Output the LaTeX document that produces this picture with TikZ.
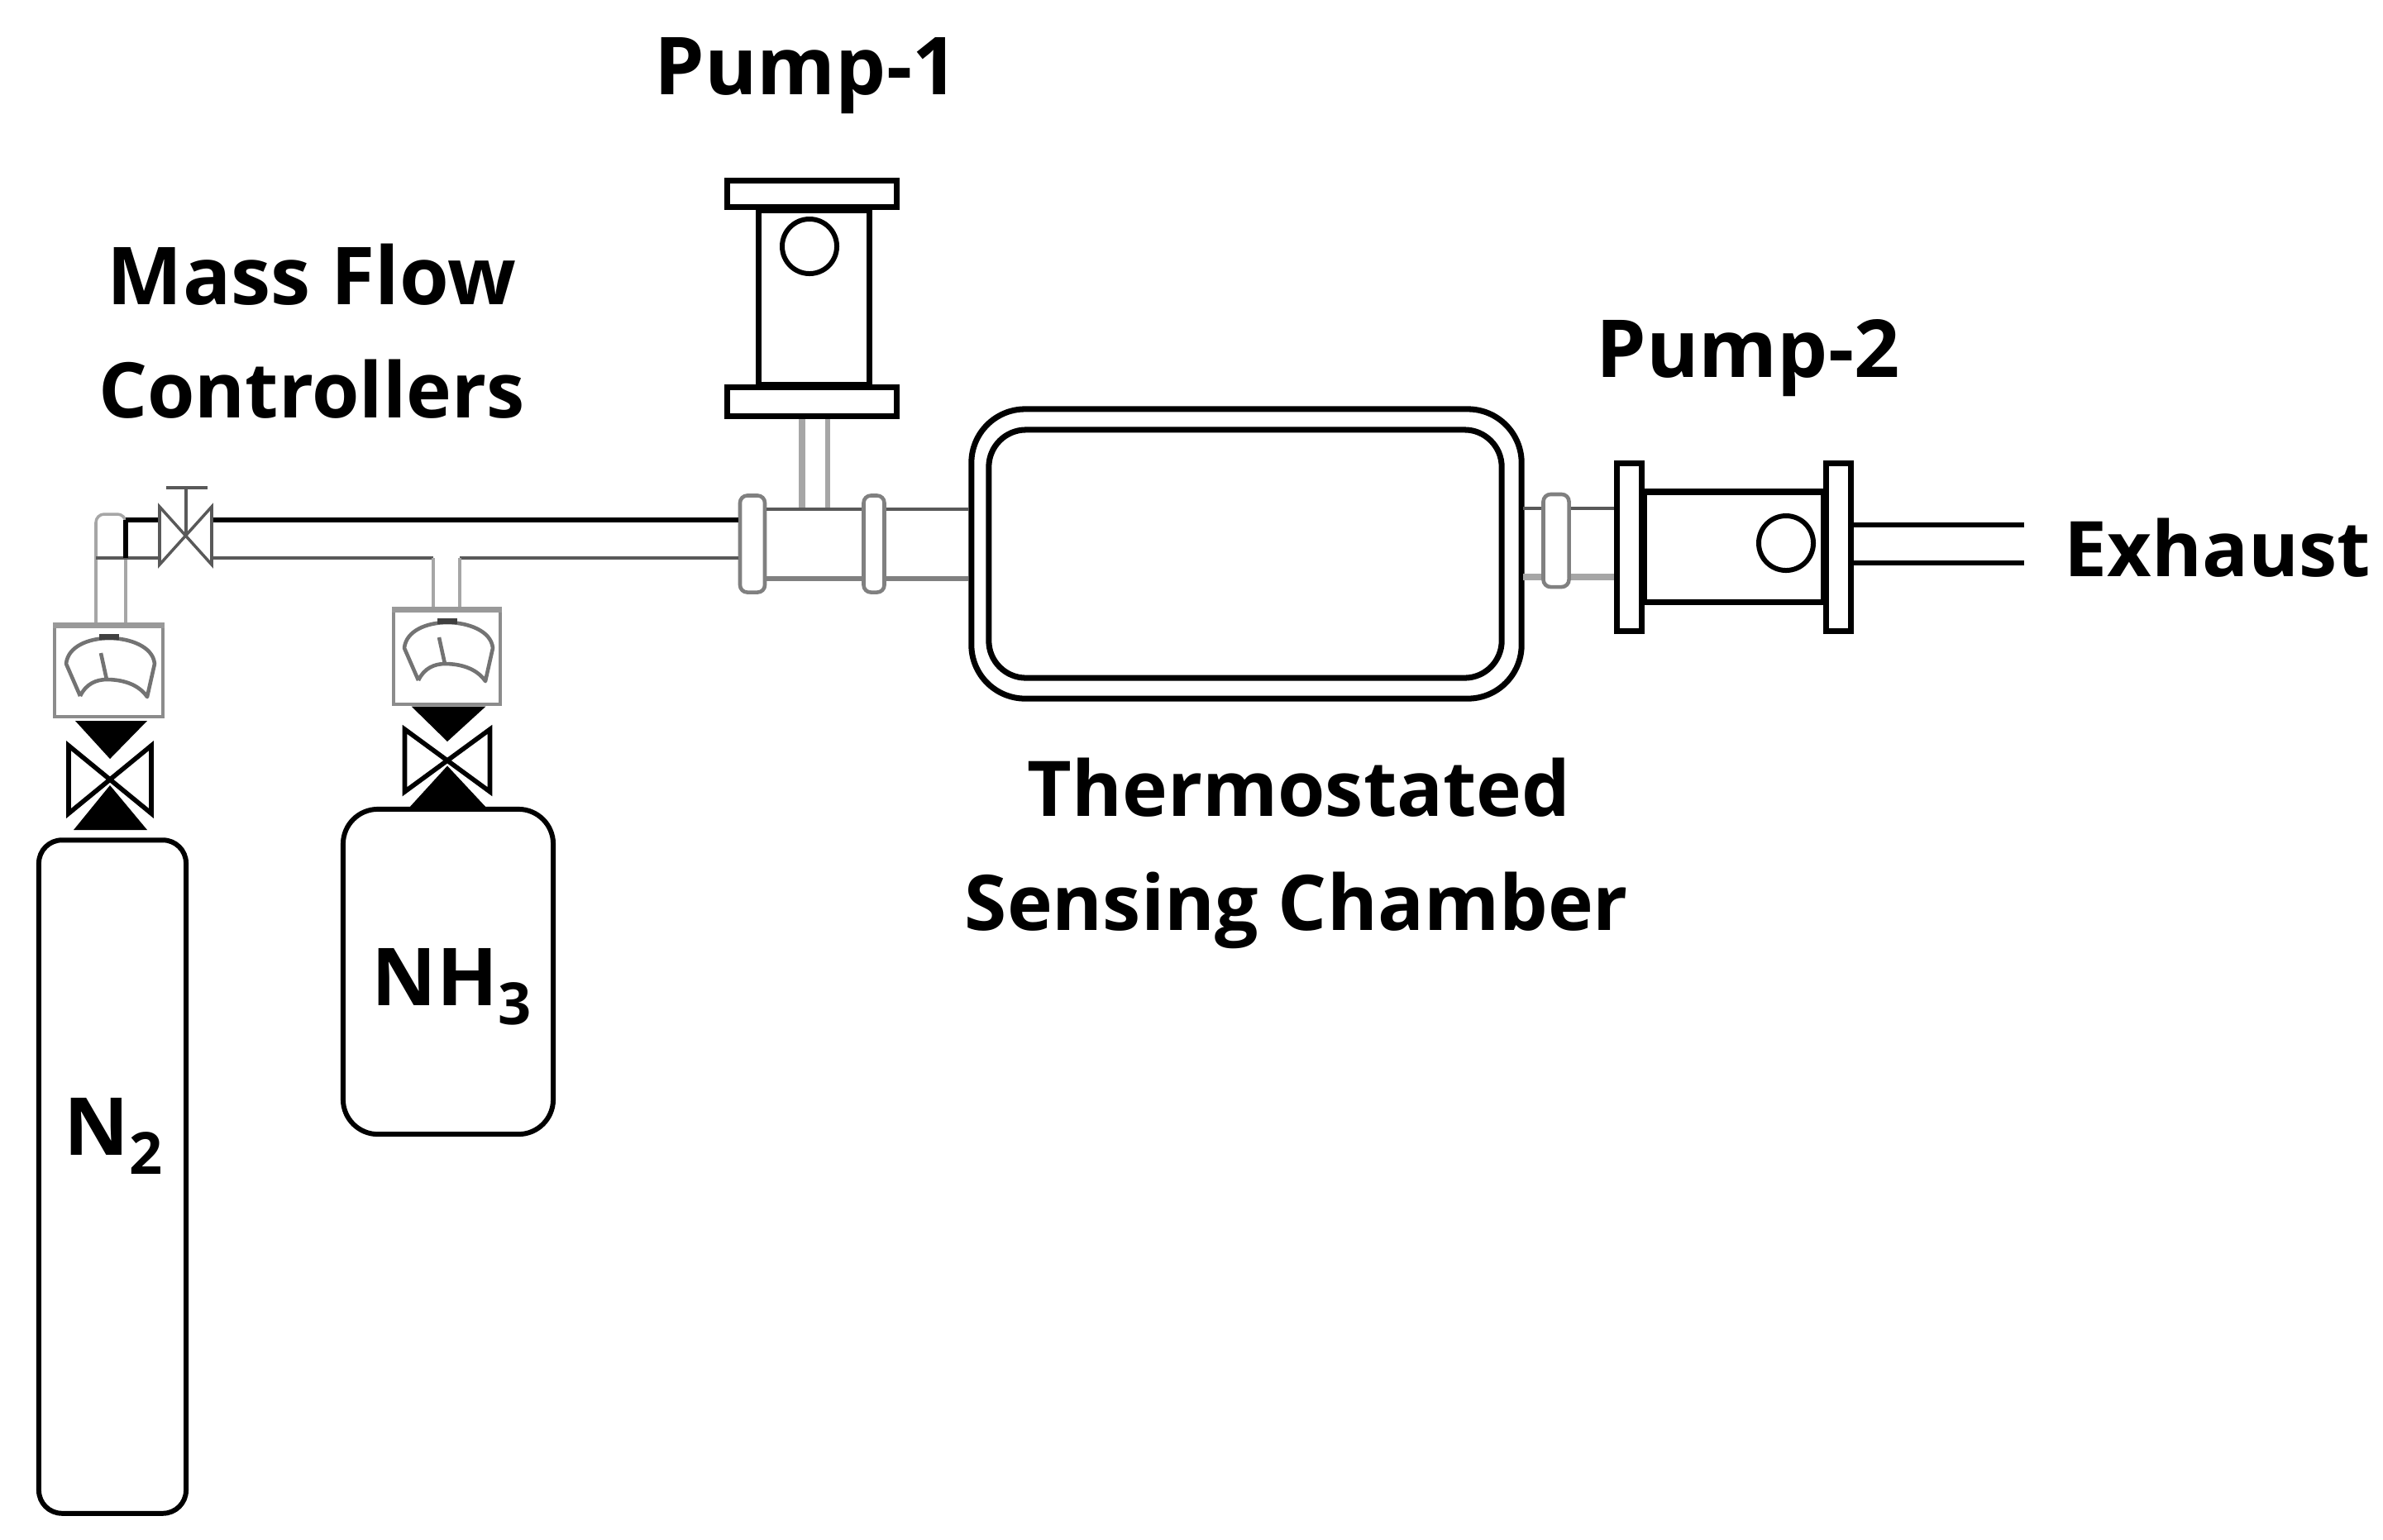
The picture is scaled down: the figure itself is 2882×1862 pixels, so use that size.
\documentclass[tikz,border=0pt]{standalone}
\usepackage{fontspec}
\setmainfont{Open Sans}
\usetikzlibrary{positioning}
\tikzset{
    caption/.style={font=\fontsize{27.5}{30}\selectfont\bfseries, inner sep=0pt, anchor=base},
    narrowcaption/.style={caption, font=\fontsize{26.4}{30}\selectfont\bfseries},
    bottle/.style={draw, line width=1.7pt, fill=white, inner sep=0pt},
    flange/.style={draw, line width=2pt, fill=white, inner sep=0pt},
    wall/.style={black, line width=1.9pt},
    collar/.style={draw=black!50, line width=1.3pt, fill=white, rounded corners=2.5pt, inner sep=0pt},
    pipe/.style={black!65, line width=1.3pt},
    palepipe/.style={black!35, line width=1.4pt},
    meterbox/.style={draw=black!45, line width=1pt, fill=white, inner sep=0pt},
    gauge/.pic={
        \draw[black!55, line width=1.3pt, line join=round]
            (-35, 30) -- (-52, -9) .. controls (-50, -30) and (-25, -40) .. (0, -40)
            .. controls (25, -40) and (53, -30) .. (55, -9) -- (46, 31)
            .. controls (35, 15) and (15, 10) .. (-3, 10)
            .. controls (-15, 10) and (-28, 15) .. (-35, 30);
        \draw[black!55, line width=1.3pt] (-3, 10) -- (-10, -22);
        \draw[black!75, line width=2pt] (-12, -42) -- (12, -42);
    },
    shutoff/.pic={
        \draw[black, line width=1.6pt] (-50, -41) -- (50, 41) -- (50, -41) -- (-50, 41) -- cycle;
        \fill[black] (-42, -71) -- (45, -71) -- (0, -25) -- cycle;
        \fill[black] (-44, 61) -- (45, 61) -- (0, 7) -- cycle;
    },
}
\begin{document}
\begin{tikzpicture}[x=0.01cm, y=-0.01cm]
    \useasboundingbox (0, 0) rectangle (2882, 1862);
    % pipe ends
    \coordinate (maintop) at (256, 629);
    \coordinate (mainbot) at (256, 675);
    \coordinate (teeleft) at (524, 735);
    \coordinate (teeright) at (556, 735);
    \coordinate (stemleft) at (970, 616);
    \coordinate (stemright) at (1001, 616);
    \coordinate (midtop) at (923, 616);
    \coordinate (midbot) at (923, 700);
    \coordinate (outtop) at (1842, 615);
    \coordinate (outbot) at (1842, 698);
    \coordinate (exhausttop) at (2448, 635);
    \coordinate (exhaustbot) at (2448, 681);
    \coordinate (elbowleft) at (116, 753);
    \coordinate (elbowright) at (152, 753);
    \coordinate (valvestem) at (225, 647);
    \coordinate (valvebar) at (225, 590);
    % components
    \node[collar, minimum width=0.3cm, minimum height=1.17cm] (collarone) at (910, 658) {};
    \node[collar, minimum width=0.25cm, minimum height=1.17cm] (collartwo) at (1057, 658) {};
    \node[collar, minimum width=0.31cm, minimum height=1.12cm] (collarthree) at (1882, 654) {};
    \node[meterbox, minimum width=1.31cm, minimum height=1.09cm] (metertwo) at (131.5, 812.5) {};
    \node[meterbox, minimum width=1.29cm, minimum height=1.13cm] (meterthree) at (540.5, 795.5) {};
    \node[bottle, rounded corners=0.28cm, minimum width=1.78cm, minimum height=8.14cm] (bottletwo) at (136, 1423.5) {};
    \node[bottle, rounded corners=0.42cm, minimum width=2.54cm, minimum height=3.93cm] (bottlethree) at (542, 1175.5) {};
    \node[draw, line width=2pt, rounded corners=0.65cm, minimum width=6.65cm, minimum height=3.5cm, inner sep=0pt] (chamber) at (1507.5, 670) {};
    \node[draw, line width=2pt, rounded corners=0.45cm, minimum width=6.2cm, minimum height=3cm, inner sep=0pt] (chamberin) at (1506, 670) {};
    % pump 1
    \node[flange, minimum width=1.33cm, minimum height=2.11cm] (pumponebody) at (984.5, 360) {};
    \node[flange, minimum width=2.05cm, minimum height=0.32cm] (pumponetop) at (982, 234.5) {};
    \node[flange, minimum width=2.05cm, minimum height=0.35cm] (pumponebot) at (982, 486) {};
    \node[draw, circle, line width=1.7pt, minimum size=0.66cm, inner sep=0pt] (pumponedial) at (979, 298) {};
    % pump 2
    \node[flange, minimum width=2.16cm, minimum height=1.33cm] (pumptwobody) at (2097, 661.5) {};
    \node[flange, minimum width=0.3cm, minimum height=2.03cm] (pumptwoleft) at (1970.5, 662) {};
    \node[flange, minimum width=0.3cm, minimum height=2.03cm] (pumptworight) at (2223.5, 662) {};
    \node[draw, circle, line width=1.7pt, minimum size=0.66cm, inner sep=0pt] (pumptwodial) at (2160, 657) {};
    % main line
    \draw[wall, line width=1.6pt] (maintop) -- (maintop -| collarone.west);
    \draw[pipe] (mainbot) -- (teeleft |- mainbot);
    \draw[pipe] (teeright |- mainbot) -- (mainbot -| collarone.west);
    \draw[palepipe, line width=1pt] (teeleft) -- (teeleft |- mainbot);
    \draw[palepipe, line width=1pt] (teeright) -- (teeright |- mainbot);
    % elbow and small valve
    \draw[palepipe, line width=1pt, rounded corners=0.1cm] (elbowleft) -- (elbowleft |- 0, 622) -- (elbowright |- 0, 622) -- (elbowright);
    \draw[wall, line width=1.5pt] (elbowright |- maintop) -- (193, 629);
    \draw[pipe] (elbowleft |- mainbot) -- (193, 675);
    \draw[wall, line width=1.5pt] (elbowright |- maintop) -- (elbowright |- mainbot);
    \draw[pipe, line width=1pt] (193, 613) -- (256, 683) -- (256, 613) -- (193, 683) -- cycle;
    \draw[pipe, line width=1pt] (valvestem) -- (valvebar);
    \draw[pipe, line width=1.3pt] (201, 590) -- (251, 590);
    % chamber side
    \draw[palepipe, line width=2.2pt] (stemleft) -- (stemleft |- pumponebot.south);
    \draw[palepipe, line width=1.8pt] (stemright) -- (stemright |- pumponebot.south);
    \draw[pipe] (collarone.east |- midtop) -- (collartwo.west |- midtop);
    \draw[black!50, line width=1.8pt] (collarone.east |- midbot) -- (collartwo.west |- midbot);
    \draw[pipe] (collartwo.east |- midtop) -- (chamber.west |- midtop);
    \draw[black!50, line width=1.8pt] (collartwo.east |- midbot) -- (chamber.west |- midbot);
    \draw[pipe] (outtop) -- (outtop -| collarthree.west);
    \draw[palepipe, line width=2.2pt] (outbot) -- (outbot -| collarthree.west);
    \draw[pipe] (collarthree.east |- outtop) -- (pumptwoleft.west |- outtop);
    \draw[palepipe, line width=2.2pt] (collarthree.east |- outbot) -- (pumptwoleft.west |- outbot);
    \draw[wall] (exhausttop) -- (exhausttop -| pumptworight.east);
    \draw[wall] (exhaustbot) -- (exhaustbot -| pumptworight.east);
    % meters and valves
    \draw[black!40, line width=2pt] (metertwo.north west) -- (metertwo.north east);
    \draw[black!40, line width=2pt] (meterthree.north west) -- (meterthree.north east);
    \pic (gaugetwo) at (132, 812) {gauge};
    \pic (gaugethree) at (541, 793) {gauge};
    \pic (valvetwo) at (133, 943) {shutoff};
    \pic[xscale=1.03, yscale=0.92] (valvethree) at (541, 920) {shutoff};
    % labels
    \node[caption] (pumpone) at (975, 114) {Pump-1};
    \node[caption] (massflow) at (377, 368) {Mass Flow};
    \node[narrowcaption] (controllers) at (377, 505) {Controllers};
    \node[caption] (pumptwo) at (2114, 456) {Pump-2};
    \node[narrowcaption, anchor=base west] (exhaust) at (2496, 697) {Exhaust};
    \node[narrowcaption] (thermostated) at (1571, 987) {Thermostated};
    \node[narrowcaption] (sensing) at (1568, 1125) {Sensing Chamber};
    \node[caption] (ntwo) at (137, 1397) {N\raisebox{-0.23cm}{\fontsize{20}{20}\selectfont 2}};
    \node[caption] (nhthree) at (546, 1216) {NH\raisebox{-0.23cm}{\fontsize{20}{20}\selectfont 3}};
\end{tikzpicture}
\end{document}
